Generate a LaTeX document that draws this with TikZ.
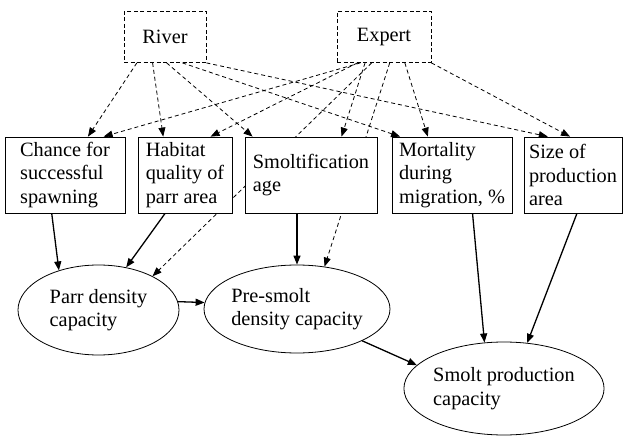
\documentclass[tikz,border=0pt]{standalone}
\usepackage{fontspec}
\setmainfont{Liberation Serif}
\usepackage{tikz}
\usetikzlibrary{arrows.meta,shapes.geometric,calc,backgrounds}

\begin{document}
\begin{tikzpicture}[
    x=1pt, y=-1pt,
    >={Triangle[length=9pt,width=7pt]},
    font=\fontsize{20.3}{23.5}\selectfont,
    source/.style={draw, dashed, dash pattern=on 4pt off 2.5pt, fill=white,
        minimum height=51pt, line width=0.8pt},
    factor/.style={draw, fill=white, align=left,
        minimum height=76pt, inner sep=2pt, line width=0.8pt},
    capnode/.style={draw, ellipse, fill=white, align=left,
        inner sep=0pt, line width=0.8pt},
    infedge/.style={->, dash pattern=on 4pt off 3pt, line width=0.8pt},
    causedge/.style={->, line width=1.3pt}
]
\useasboundingbox (0,0) rectangle (627,441);

% information sources
\node[source, minimum width=82pt] (river) at (165,37) {River};
\node[source, minimum width=94pt] (expert) at (384,37) {Expert};

% factors
\node[factor, minimum width=120pt] (chance) at (65,175) {Chance for\\successful\\spawning};
\node[factor, minimum width=94pt] (habitat) at (185,175) {Habitat\\quality of\\parr area};
\node[factor, minimum width=132pt] (sage) at (311,175) {Smoltification\\age};
\node[factor, minimum width=120pt] (mort) at (452,175) {Mortality\\during\\migration, \%};
\node[factor, minimum width=98pt] (size) at (573,175) {Size of\\production\\area};

% capacities
\node[capnode, minimum width=161pt, minimum height=90pt] (parr) at (98.5,310) {Parr density\\capacity};
\node[capnode, minimum width=186pt, minimum height=88pt] (presmolt) at (297,309) {Pre-smolt\\density capacity};
\node[capnode, minimum width=200pt, minimum height=93pt] (smoltprod) at (504,388.5) {Smolt production\\capacity};

\begin{scope}[on background layer]
% river links
\draw[infedge] ($(river.south west)!0.16!(river.south east)$) -- ($(chance.north west)!0.69!(chance.north east)$);
\draw[infedge] ($(river.south west)!0.35!(river.south east)$) -- ($(habitat.north west)!0.27!(habitat.north east)$);
\draw[infedge] ($(river.south west)!0.52!(river.south east)$) -- ($(sage.north west)!0.06!(sage.north east)$);
\draw[infedge] ($(river.south west)!0.71!(river.south east)$) -- ($(mort.north west)!0.07!(mort.north east)$);
\draw[infedge] (river.south east) -- ($(size.north west)!0.245!(size.north east)$);
% expert links
\draw[infedge] ($(expert.south west)!0.25!(expert.south east)$) -- ($(chance.north west)!0.82!(chance.north east)$);
\draw[infedge] ($(expert.south west)!0.22!(expert.south east)$) -- ($(habitat.north west)!0.77!(habitat.north east)$);
\draw[infedge] ($(expert.south west)!0.30!(expert.south east)$) -- ($(sage.north west)!0.73!(sage.north east)$);
\draw[infedge] ($(expert.south west)!0.37!(expert.south east)$) -- (parr.32);
\draw[infedge] ($(expert.south west)!0.56!(expert.south east)$) -- (presmolt.57);
\draw[infedge] ($(expert.south west)!0.72!(expert.south east)$) -- ($(mort.north west)!0.30!(mort.north east)$);
\draw[infedge] (expert.south east) -- ($(size.north west)!0.47!(size.north east)$);
\end{scope}

% causal links
\draw[causedge] ($(chance.south west)!0.39!(chance.south east)$) -- (parr.135);
\draw[causedge] ($(habitat.south west)!0.29!(habitat.south east)$) -- (parr.57);
\draw[causedge] (presmolt.north |- sage.south) -- (presmolt.north);
\draw[causedge] (parr.6) -- (presmolt.176);
\draw[causedge] (presmolt.-26) -- (smoltprod.165);
\draw[causedge] ($(mort.south west)!0.67!(mort.south east)$) -- (smoltprod.113);
\draw[causedge] ($(size.south west)!0.54!(size.south east)$) -- (smoltprod.63);
\end{tikzpicture}
\end{document}
